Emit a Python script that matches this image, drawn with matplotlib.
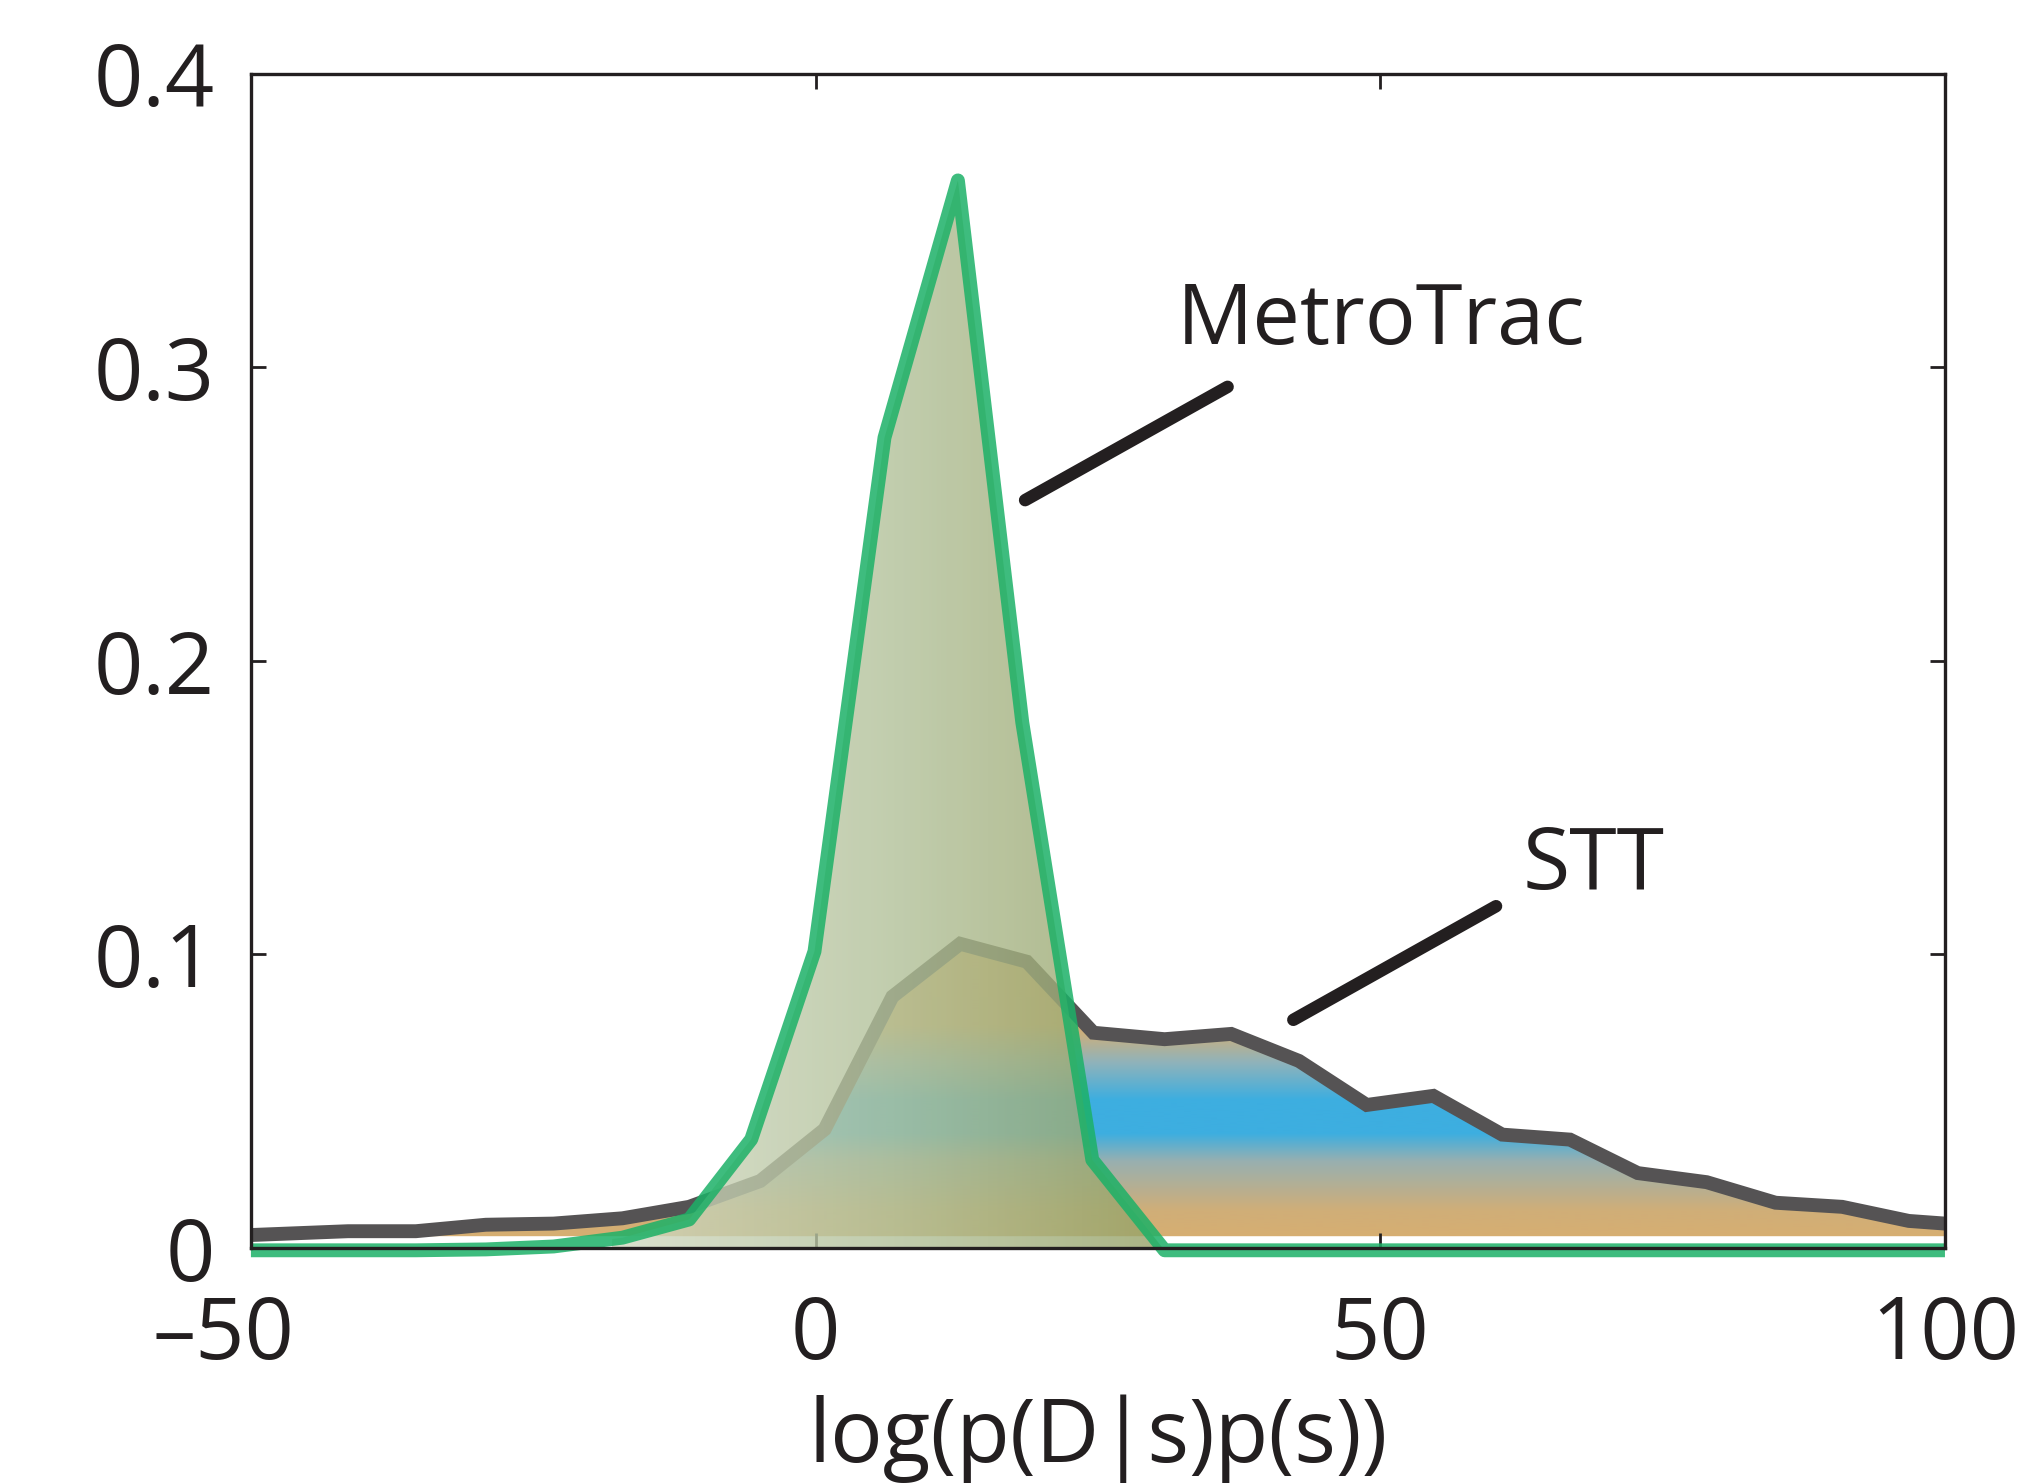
import numpy as np
import matplotlib
matplotlib.use("Agg")
import matplotlib.pyplot as plt
from matplotlib.colors import LinearSegmentedColormap
from matplotlib.transforms import ScaledTranslation

# ---- data ----
stt_x = [-50, -41.4, -35.4, -29.2, -23.2, -17.1, -11.2, -4.9, 0.8, 6.8, 12.8, 18.7,
         24.6, 30.9, 36.8, 42.8, 48.8, 54.7, 60.8, 66.8, 72.8, 78.9, 85.0, 90.9, 96.8, 100]
stt_y = [0.0044, 0.0057, 0.0057, 0.0079, 0.0083, 0.0101, 0.014, 0.0228, 0.0404, 0.0856,
         0.1036, 0.0975, 0.0733, 0.0711, 0.0729, 0.0637, 0.0487, 0.0518, 0.0386, 0.0369,
         0.0255, 0.0224, 0.0154, 0.0140, 0.0092, 0.0083]
mt_x = [-50, -41.4, -35.4, -29.2, -23.2, -17.1, -11.2, -5.7, -0.1, 6.1, 12.6, 18.3,
        24.5, 30.9, 40, 60, 80, 100]
mt_y = [-0.0008, -0.0008, -0.0008, -0.0005, 0.0005, 0.0035, 0.0097, 0.037, 0.101, 0.276,
        0.3636, 0.179, 0.030, -0.0008, -0.0008, -0.0008, -0.0008, -0.0008]
x_ticks = [-50, 0, 50, 100]
x_ticklabels = ["\u201350", "0", "50", "100"]
y_ticks = [0, 0.1, 0.2, 0.3, 0.4]
y_ticklabels = ["0", "0.1", "0.2", "0.3", "0.4"]

plt.rcParams['font.family'] = ['Open Sans', 'DejaVu Sans']
TXT = '#231f20'

fig = plt.figure(figsize=(20.22, 14.83), dpi=100)
ax = fig.add_axes([0.1241, 0.1585, 0.8378, 0.7919])
ax.set_xlim(-50, 100)
ax.set_ylim(0, 0.4)

# STT fill with vertical gradient
stt_cmap = LinearSegmentedColormap.from_list('stt', [
    (0.0, '#d9ae6f'), (0.12, '#d0ae78'), (0.28, '#98b0b0'), (0.37, '#3daee0'),
    (0.48, '#3daee0'), (0.60, '#8fb3bb'), (0.72, '#d9ae6f'), (1.0, '#dcae6c')])
poly_s = ax.fill_between(stt_x, 0.004, stt_y, facecolor='none', edgecolor='none')
grad_v = np.linspace(0, 1, 256).reshape(-1, 1)
im_s = ax.imshow(grad_v, extent=[-50, 100, 0.0, 0.105], origin='lower', aspect='auto',
                 cmap=stt_cmap, zorder=1, interpolation='bilinear')
im_s.set_clip_path(poly_s.get_paths()[0], transform=ax.transData)
ax.plot(stt_x, stt_y, color='#555354', lw=10, solid_joinstyle='miter', zorder=2)

# MetroTrac fill with horizontal gradient
mt_cmap = LinearSegmentedColormap.from_list('mt', [
    (0.0, '#d2d9c2'), (0.5, '#b2c199'), (1.0, '#94a063')])
poly_m = ax.fill_between(mt_x, 0, mt_y, facecolor='none', edgecolor='none')
grad_h = np.linspace(0, 1, 256).reshape(1, -1)
im_m = ax.imshow(grad_h, extent=[-18, 32, 0, 0.4], origin='lower', aspect='auto',
                 cmap=mt_cmap, zorder=3, alpha=0.8, interpolation='bilinear')
im_m.set_clip_path(poly_m.get_paths()[0], transform=ax.transData)
ax.plot(mt_x, mt_y, color='#1cb167', alpha=0.85, lw=10, solid_joinstyle='round',
        solid_capstyle='butt', zorder=4, clip_on=False)

# annotations
ax.plot([18.55, 36.48], [0.2547, 0.2933], color=TXT, lw=9, solid_capstyle='round', zorder=5)
ax.plot([42.3, 60.25], [0.0777, 0.1164], color=TXT, lw=9, solid_capstyle='round', zorder=5)
ax.text(32.0, 0.3078, 'MetroTrac', fontsize=61, color=TXT, ha='left', va='baseline')
ax.text(62.6, 0.1221, 'STT', fontsize=62, color=TXT, ha='left', va='baseline')

# axes styling
for s in ax.spines.values():
    s.set_linewidth(2.4)
    s.set_color(TXT)
    s.set_zorder(6)
ax.set_xticks(x_ticks)
ax.set_xticklabels(x_ticklabels)
ax.set_yticks(y_ticks)
ax.set_yticklabels(y_ticklabels)
ax.tick_params(direction='in', length=11, width=2, color=TXT, top=True, right=True,
               labelsize=62, labelcolor=TXT)
ax.tick_params(axis='x', pad=33)
ax.tick_params(axis='y', pad=26)
ax.set_xlabel('log(p(D|s)p(s))', fontsize=63, color=TXT, labelpad=10)

# hang the minus sign of the first x label to the left (number centred on the tick)
lab0 = ax.get_xticklabels()[0]
lab0.set_transform(lab0.get_transform() + ScaledTranslation(-0.27, 0, fig.dpi_scale_trans))

fig.savefig('out.png', dpi=100)
